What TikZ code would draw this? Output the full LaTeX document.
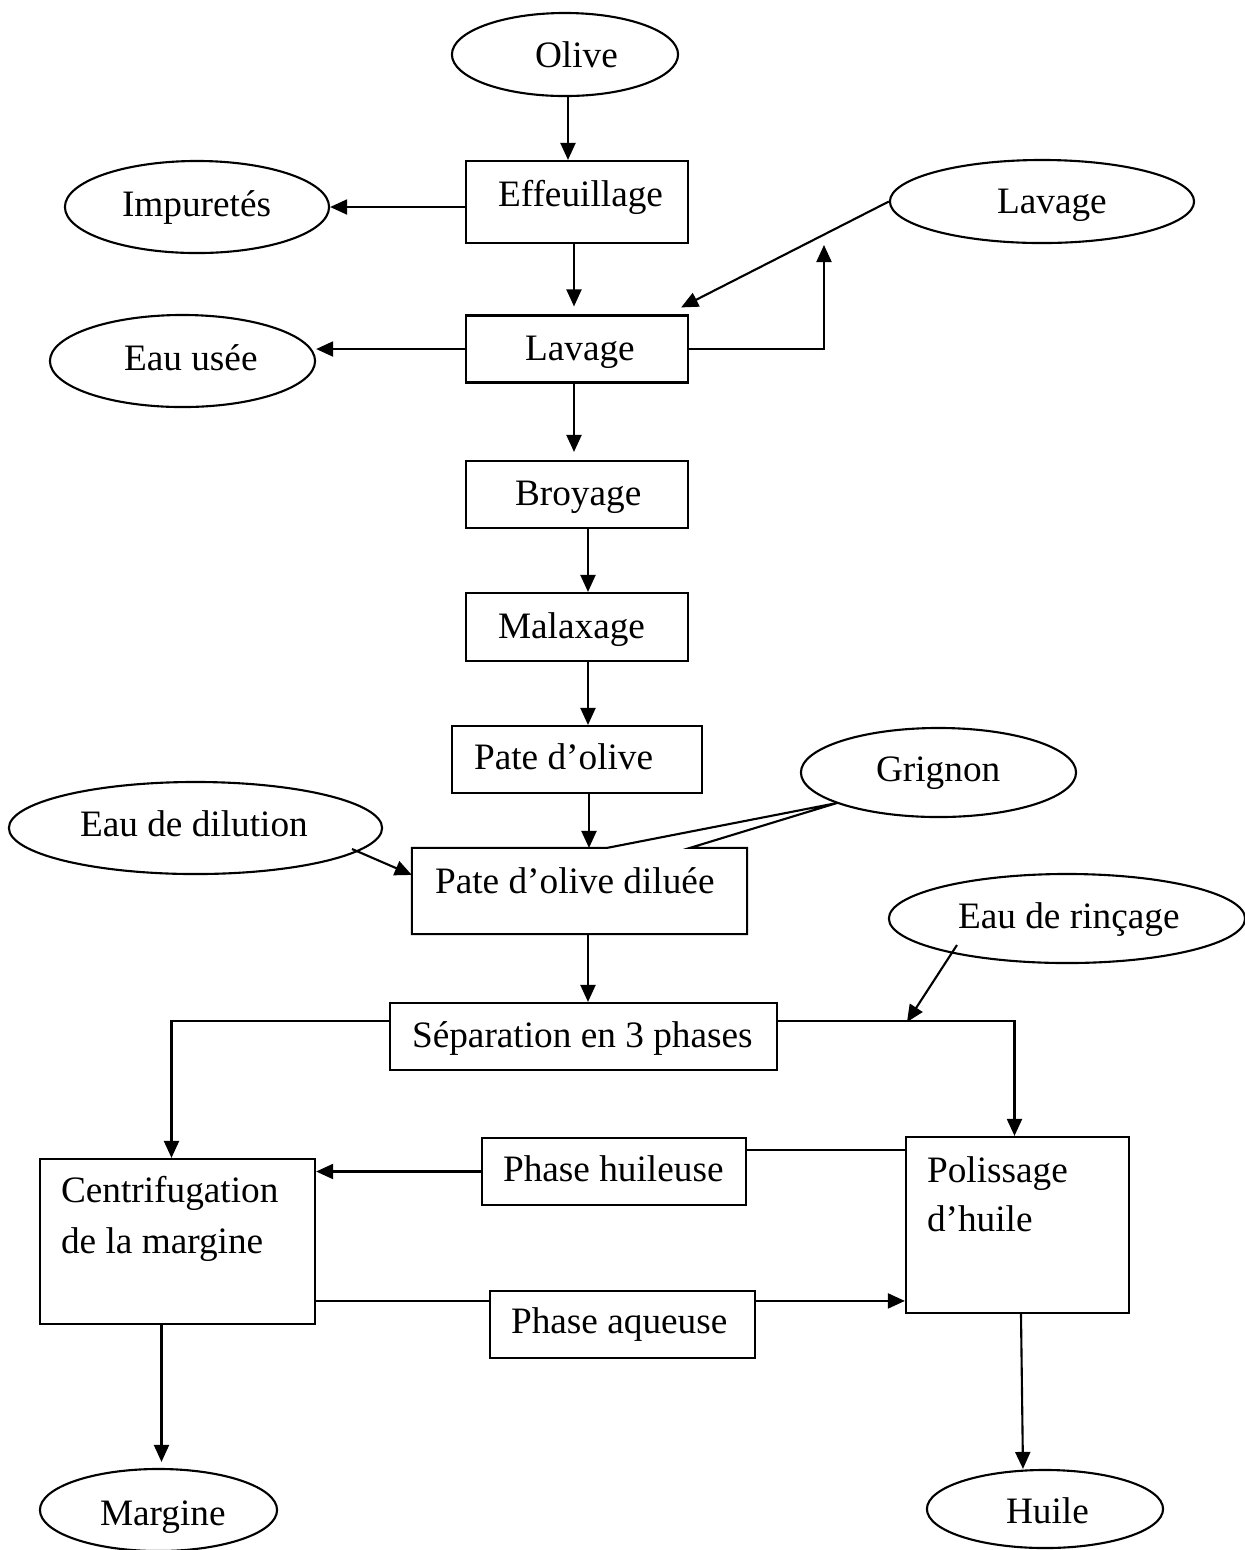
\documentclass[tikz,border=0pt]{standalone}
\usepackage{fontspec}
\setmainfont{Liberation Serif}
\usetikzlibrary{arrows.meta,shapes.geometric,calc}
\begin{document}
\begin{tikzpicture}[x=0.01cm,y=-0.01cm,
  line width=0.6pt,
  boxnode/.style={draw,rectangle,inner sep=0pt},
  ovalnode/.style={draw,ellipse,inner sep=0pt},
  txt/.style={anchor=base west,inner sep=0pt,font=\fontsize{10.6}{12}\selectfont},
  arr/.style={-{Triangle[length=0.17cm,width=0.15cm]}}]
\useasboundingbox (0,0) rectangle (1244,1550);
% ellipses
\node[ovalnode,minimum width=2.26cm,minimum height=0.83cm] (olive) at (565,54.5) {};
\node[ovalnode,minimum width=2.64cm,minimum height=0.92cm] (imp) at (197,207) {};
\node[ovalnode,minimum width=2.65cm,minimum height=0.92cm] (eau) at (182.5,361) {};
\node[ovalnode,minimum width=3.04cm,minimum height=0.83cm] (lavE) at (1042,201.5) {};
\node[ovalnode,minimum width=3.73cm,minimum height=0.92cm] (dilE) at (195.5,828) {};
\node[ovalnode,minimum width=2.75cm,minimum height=0.89cm] (grig) at (938.5,772.5) {};
\node[ovalnode,minimum width=3.56cm,minimum height=0.89cm] (rinc) at (1067,918.5) {};
\node[ovalnode,minimum width=2.37cm,minimum height=0.82cm] (marg) at (158.5,1510) {};
\node[ovalnode,minimum width=2.36cm,minimum height=0.78cm] (huile) at (1045,1509) {};
% boxes
\node[boxnode,minimum width=2.22cm,minimum height=0.82cm] (eff) at (577,202) {};
\node[boxnode,minimum width=2.22cm,minimum height=0.67cm] (lav) at (577,349) {};
\node[boxnode,minimum width=2.22cm,minimum height=0.67cm] (broy) at (577,494.5) {};
\node[boxnode,minimum width=2.22cm,minimum height=0.68cm] (malax) at (577,627) {};
\node[boxnode,minimum width=2.50cm,minimum height=0.67cm] (pate) at (577,759.5) {};
\node[rectangle,inner sep=0pt,minimum width=3.33cm,minimum height=0.84cm] (dil) at (579.5,891) {};
\node[boxnode,minimum width=3.87cm,minimum height=0.67cm] (sep) at (583.5,1036.5) {};
\node[boxnode,minimum width=2.75cm,minimum height=1.65cm] (centri) at (177.5,1241.5) {};
\node[boxnode,minimum width=2.64cm,minimum height=0.67cm] (ph) at (614,1171.5) {};
\node[boxnode,minimum width=2.65cm,minimum height=0.67cm] (pa) at (622.5,1324.5) {};
\node[boxnode,minimum width=2.23cm,minimum height=1.76cm] (pol) at (1017.5,1225) {};
% texts
\node[txt] (t-olive) at (534,67) {Olive};
\node[txt] (t-imp) at (121,216) {Impuretés};
\node[txt] (t-eff) at (497,206) {Effeuillage};
\node[txt] (t-lav) at (524,360) {Lavage};
\node[txt] (t-eau) at (123,370) {Eau usée};
\node[txt] (t-lavE) at (996,213) {Lavage};
\node[txt] (t-broy) at (514,505) {Broyage};
\node[txt] (t-malax) at (497,638) {Malaxage};
\node[txt] (t-pate) at (473,769) {Pate d’olive};
\node[txt] (t-dilE) at (79,836) {Eau de dilution};
\node[txt] (t-dil) at (434,893) {Pate d’olive diluée};
\node[txt] (t-grig) at (875,781) {Grignon};
\node[txt] (t-rinc) at (957,928) {Eau de rinçage};
\node[txt] (t-sep) at (411,1047) {Séparation en 3 phases};
\node[txt] (t-centri1) at (60,1202) {Centrifugation};
\node[txt] (t-centri2) at (60,1253) {de la margine};
\node[txt] (t-ph) at (502,1181) {Phase huileuse};
\node[txt] (t-pa) at (510,1333) {Phase aqueuse};
\node[txt] (t-pol1) at (926,1182) {Polissage};
\node[txt] (t-pol2) at (926,1231) {d’huile};
\node[txt] (t-huile) at (1005,1523) {Huile};
\node[txt] (t-marg) at (99,1525) {Margine};
% callout outline of the diluted paste box with pointer to Grignon
\coordinate (gtip) at (837,803);
\draw (dil.north west) -- ($(dil.north west)+(195,0)$) -- (gtip)
      -- ($(dil.north west)+(278,0)$) -- (dil.north east) -- (dil.south east)
      -- (dil.south west) -- cycle;
% connectors
\draw[arr] ($(olive.south)+(3,0)$) -- ($(olive.south |- eff.north)+(3,0)$);
\draw[arr] (eff.west |- imp.east) -- (imp.east);
\draw[arr,shorten >=0.08cm] ($(eff.south)+(-3,0)$) -- ($(eff.south |- lav.north)+(-3,0)$);
\draw[arr] (lav.west) -- (lav.west -| eau.east);
\coordinate (lavtip) at ($(lav.north east)+(-8,-7)$);
\draw[arr] (lavE.west) -- (lavtip);
\coordinate (fb) at (824,245);
\draw[arr] (lav.east) -| (fb);
\draw[arr,shorten >=0.08cm] ($(lav.south)+(-3,0)$) -- ($(lav.south |- broy.north)+(-3,0)$);
\draw[arr] ($(broy.south)+(11,0)$) -- ($(malax.north)+(11,0)$);
\draw[arr] ($(malax.south)+(11,0)$) -- ($(pate.north)+(11,0)$);
\draw[arr] ($(pate.south)+(12,0)$) -- ($(pate.south |- dil.north)+(12,0)$);
\coordinate (dstart) at (352,849);
\draw[arr] (dstart) -- ($(dil.north west)+(0,27)$);
\draw[arr] ($(dil.south)+(8.5,0)$) -- ($(dil.south |- sep.north)+(8.5,0)$);
\coordinate (sepL) at ($(sep.north west)+(0,19)$);
\coordinate (sepR) at ($(sep.north east)+(0,19)$);
\draw[arr] (sepL) -| ($(centri.north)+(-6,0)$);
\draw[arr] (sepR) -| ($(pol.north)+(-3,0)$);
\coordinate (rstart) at (957,945);
\coordinate (rend) at (907,1022);
\draw[arr] (rstart) -- (rend);
\draw[arr] (ph.west) -- (ph.west -| centri.east);
\coordinate (phR) at ($(ph.north east)+(0,13)$);
\draw (phR) -- (phR -| pol.west);
\coordinate (paL) at ($(pa.north west)+(0,11)$);
\coordinate (paR) at ($(pa.north east)+(0,11)$);
\draw (paL) -- (paL -| centri.east);
\draw[arr] (paR) -- (paR -| pol.west);
\draw[arr,shorten >=0.06cm] ($(centri.south)+(-16,0)$) -- ($(centri.south |- marg.north)+(-16,0)$);
\draw[arr] ($(pol.south)+(3.5,0)$) -- ($(huile.north)+(-22,0)$);
\end{tikzpicture}
\end{document}
